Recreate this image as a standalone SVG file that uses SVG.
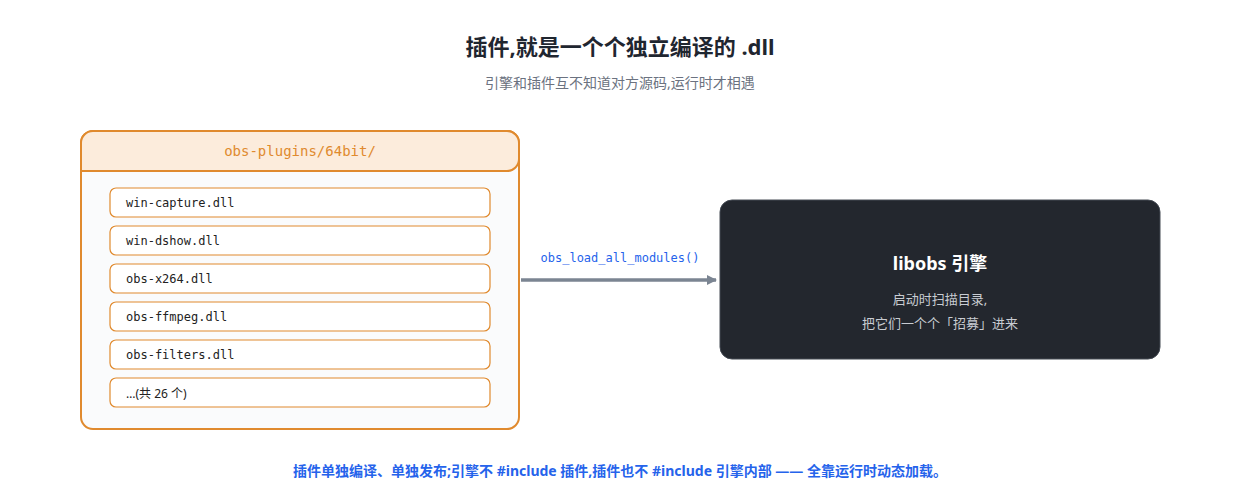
<svg xmlns="http://www.w3.org/2000/svg" width="1240" height="500" viewBox="0 0 1240 500">
<defs>
<style>
.mono{font-family:"DejaVu Sans Mono","Liberation Mono",monospace}
.sans{font-family:"Noto Sans","Noto Sans CJK SC",sans-serif}
.item{fill:#fff;stroke:#e08a2e;stroke-width:1.2}
.it{font-size:12px;fill:#222}
</style>
<marker id="arr" markerWidth="10" markerHeight="10" refX="9" refY="5" orient="auto" markerUnits="userSpaceOnUse"><path d="M0,0 L10,5 L0,10 z" fill="#7b8592"/></marker>
</defs>
<rect width="1240" height="500" fill="#fff"/>
<text x="620" y="55" text-anchor="middle" class="sans" font-size="22" font-weight="bold" fill="#1f2630">插件,就是一个个独立编译的 .dll</text>
<text x="620" y="88" text-anchor="middle" class="sans" font-size="14" fill="#6b7280">引擎和插件互不知道对方源码,运行时才相遇</text>
<g id="plugins">
<rect x="81" y="131" width="438" height="298" rx="12" fill="#fafbfc" stroke="#e08a2e" stroke-width="2"/>
<path d="M81,171 V143 a12,12 0 0 1 12,-12 H507 a12,12 0 0 1 12,12 V159 a12,12 0 0 1 -12,12 Z" fill="#fcecdc" stroke="#e08a2e" stroke-width="2"/>
<text x="300" y="156" text-anchor="middle" class="mono" font-size="14" fill="#e08a2e">obs-plugins/64bit/</text>
<rect class="item" x="110" y="188" width="380" height="29" rx="6"/><text x="126" y="207" class="mono it">win-capture.dll</text>
<rect class="item" x="110" y="226" width="380" height="29" rx="6"/><text x="126" y="245" class="mono it">win-dshow.dll</text>
<rect class="item" x="110" y="264" width="380" height="29" rx="6"/><text x="126" y="283" class="mono it">obs-x264.dll</text>
<rect class="item" x="110" y="302" width="380" height="29" rx="6"/><text x="126" y="321" class="mono it">obs-ffmpeg.dll</text>
<rect class="item" x="110" y="340" width="380" height="29" rx="6"/><text x="126" y="359" class="mono it">obs-filters.dll</text>
<rect class="item" x="110" y="378" width="380" height="29" rx="6"/><text x="126" y="398" class="sans it" font-size="13">…(共 26 个)</text>
</g>
<g id="engine">
<rect x="720" y="200" width="440" height="159" rx="12" fill="#23272e" stroke="#444a53"/>
<text x="940" y="270" text-anchor="middle" class="sans" font-size="18" font-weight="bold" fill="#fff">libobs 引擎</text>
<text x="940" y="304" text-anchor="middle" class="sans" font-size="13" fill="#c8ccd2">启动时扫描目录,</text>
<text x="940" y="328" text-anchor="middle" class="sans" font-size="13" fill="#c8ccd2">把它们一个个「招募」进来</text>
</g>
<g id="connectors">
<line x1="521" y1="280" x2="716" y2="280" stroke="#7b8592" stroke-width="3.5" marker-end="url(#arr)"/>
<text x="620" y="262" text-anchor="middle" class="mono" font-size="12" fill="#2563eb">obs_load_all_modules()</text>
</g>
<text x="620" y="476" text-anchor="middle" class="sans" font-size="14" font-weight="bold" fill="#2563eb">插件单独编译、单独发布;引擎不 #include 插件,插件也不 #include 引擎内部 —— 全靠运行时动态加载。</text>
</svg>
